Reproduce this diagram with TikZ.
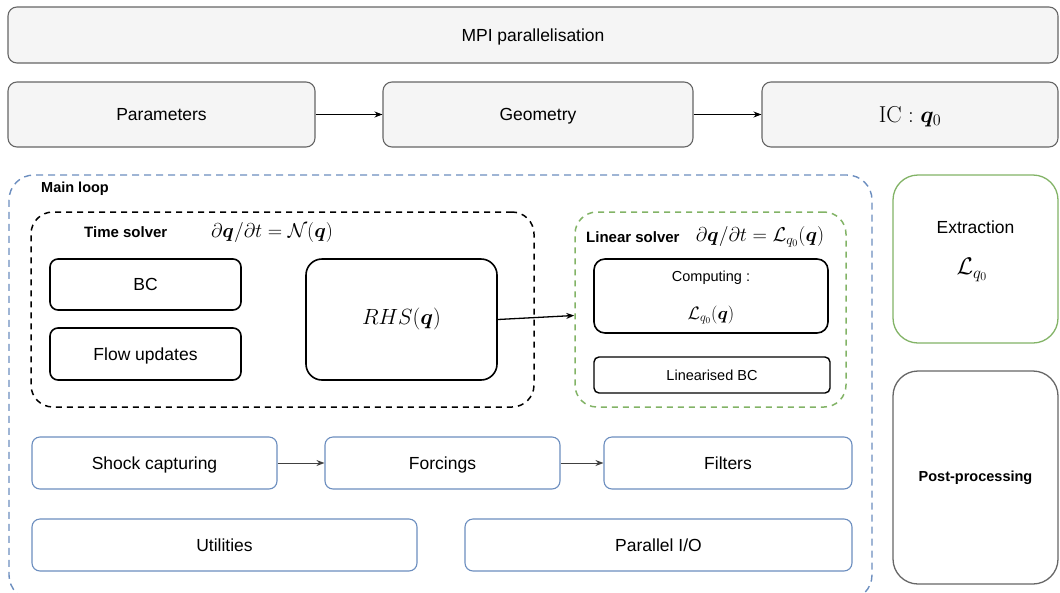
\RequirePackage{fix-cm}
\documentclass[tikz,border=0pt]{standalone}
\usepackage{amsmath}
\usepackage{bm}
\usepackage[no-math]{fontspec}
\setmainfont{Liberation Sans}
\usepackage{tikz}
\usetikzlibrary{shapes, arrows.meta}
\definecolor{drawgrey}{HTML}{666666}
\definecolor{drawfill}{HTML}{F5F5F5}
\definecolor{drawblue}{HTML}{6C8EBF}
\definecolor{drawgreen}{HTML}{82B366}
\newcommand{\bigtext}{\fontsize{17.5}{21}\selectfont}
\newcommand{\smalltext}{\fontsize{14.5}{17}\selectfont}
\tikzstyle{greybox} = [rectangle, rounded corners=9pt, draw=drawgrey, fill=drawfill, line width=1.1pt, text centered, font=\bigtext, text height=12.5pt, text depth=0pt]
\tikzstyle{bluebox} = [rectangle, rounded corners=8pt, draw=drawblue, fill=white, line width=1.1pt, text centered, font=\bigtext, text height=12.5pt, text depth=0pt]
\tikzstyle{process} = [rectangle, rounded corners=8pt, draw=black, line width=1.6pt, text centered, font=\bigtext, text height=12.5pt, text depth=0pt]
\tikzstyle{solverbox} = [rectangle, rounded corners=22pt, dash pattern=on 6pt off 5pt, line width=1.5pt]
\tikzstyle{roundbox} = [rectangle, rounded corners=25pt, line width=1.3pt, fill=white]
\tikzstyle{title} = [font=\bfseries\smalltext, inner sep=0pt]
\tikzstyle{arrow} = [line width=1pt, -{Stealth[length=8pt, width=6pt]}]

\begin{document}
\begin{tikzpicture}[x=1pt, y=-1pt]
\useasboundingbox (0,0) rectangle (1060,592);

\node (mpi) [greybox, minimum width=1050pt, minimum height=56pt] at (533,35) {MPI parallelisation};
\node (params) [greybox, minimum width=307pt, minimum height=65pt] at (161.5,114.5) {Parameters};
\node (geom) [greybox, minimum width=310pt, minimum height=65pt] at (538,114.5) {Geometry};
\node (ic) [greybox, minimum width=296pt, minimum height=65pt, font=\fontsize{23}{27}\selectfont, text height=15.7pt, text depth=0pt] at (910,114.5) {$\mathrm{IC}:\bm{q}_0$};

% main loop
\node (mainloop) [rectangle, rounded corners=25pt, draw=drawblue, dash pattern=on 7pt off 5pt, line width=1.4pt, minimum width=863pt, minimum height=425pt] at (440.5,387.5) {};
\node (looptitle) [title, anchor=west] at (41,189) {Main loop};

% time solver
\node (timesolver) [solverbox, draw=black, minimum width=503pt, minimum height=195pt] at (282.5,309.5) {};
\node (timetitle) [title, anchor=west, font=\bfseries\fontsize{15}{18}\selectfont] at (84,232) {Time solver};
\node (timeeq) [font=\fontsize{20}{24}\selectfont] at (272,232) {$\partial\bm{q}/\partial t=\mathcal{N}(\bm{q})$};
\node (bc) [process, minimum width=191pt, minimum height=51pt] at (145.5,284.5) {BC};
\node (flow) [process, minimum width=191pt, minimum height=52pt] at (145.5,354) {Flow updates};
\node (rhs) [process, rounded corners=16pt, minimum width=191pt, minimum height=121pt, font=\fontsize{22}{26}\selectfont, text height=16pt, text depth=5.5pt] at (401.5,319.5) {$RHS(\bm{q})$};

% linear solver
\node (linsolver) [solverbox, draw=drawgreen, minimum width=271pt, minimum height=195pt] at (710.5,309.5) {};
\node (lintitle) [title, anchor=west, font=\bfseries\fontsize{15}{18}\selectfont] at (586,237) {Linear solver};
\node (lineq) [font=\fontsize{20}{24}\selectfont] at (760,237) {$\partial\bm{q}/\partial t=\mathcal{L}_{q_0}(\bm{q})$};
\node (computing) [process, rounded corners=11pt, minimum width=234pt, minimum height=74pt] at (711,296) {};
\node (comptext) [font=\smalltext] at (711,278) {Computing :};
\node (compeq) [font=\fontsize{18}{22}\selectfont] at (711,315) {$\mathcal{L}_{q_0}(\bm{q})$};
\node (linbc) [process, rounded corners=5pt, line width=1.4pt, minimum width=236pt, minimum height=36pt, font=\smalltext, text height=10.4pt, text depth=0pt] at (712,375) {Linearised BC};

% extraction and post-processing
\node (extract) [roundbox, draw=drawgreen, minimum width=165pt, minimum height=168pt] at (975.5,259) {};
\node (extracttext) [font=\bigtext] at (975.5,227) {Extraction};
\node (extracteq) [font=\fontsize{24}{28}\selectfont] at (972,270) {$\mathcal{L}_{q_0}$};
\node (post) [roundbox, draw=drawgrey, minimum width=165pt, minimum height=213pt, font=\bfseries\smalltext] at (975.5,477.5) {Post-processing};

% modules
\node (shock) [bluebox, minimum width=245pt, minimum height=52pt] at (154.5,463) {Shock capturing};
\node (forcings) [bluebox, minimum width=235pt, minimum height=52pt] at (442.5,463) {Forcings};
\node (filters) [bluebox, minimum width=248pt, minimum height=52pt] at (728,463) {Filters};
\node (utilities) [bluebox, minimum width=385pt, minimum height=52pt] at (224.5,545) {Utilities};
\node (pario) [bluebox, minimum width=387pt, minimum height=52pt] at (658.5,545) {Parallel I/O};

\draw [arrow] (params) -- (geom);
\draw [arrow] (geom) -- (ic);
\draw [arrow, line width=1.3pt] (rhs.east) -- ([yshift=-6pt]linsolver.west);
\draw [arrow, draw=black!75] (shock) -- (forcings);
\draw [arrow, draw=black!75] (forcings) -- (filters);

\end{tikzpicture}
\end{document}
